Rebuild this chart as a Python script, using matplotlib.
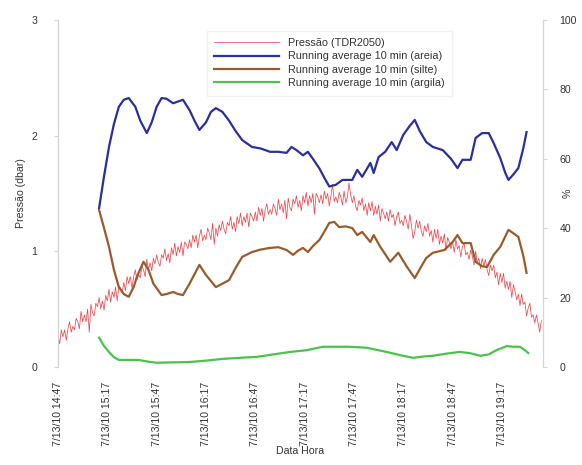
import matplotlib
matplotlib.use("Agg")
import matplotlib.pyplot as plt

plt.rcParams['font.family'] = ['Liberation Sans', 'DejaVu Sans']

# tempo em minutos a partir de 7/13/10 14:47
tick_pos = [0, 30, 60, 90, 120, 150, 180, 210, 240, 270]
tick_lab = ["7/13/10 14:47", "7/13/10 15:17", "7/13/10 15:47", "7/13/10 16:17",
            "7/13/10 16:47", "7/13/10 17:17", "7/13/10 17:47", "7/13/10 18:17",
            "7/13/10 18:47", "7/13/10 19:17"]

# pressao (dbar), uma leitura por minuto
p_val = [0.27, 0.20, 0.32, 0.26, 0.32, 0.23, 0.33, 0.39, 0.30, 0.35,
         0.32, 0.42, 0.39, 0.33, 0.48, 0.39, 0.45, 0.39, 0.50, 0.30,
         0.54, 0.47, 0.44, 0.55, 0.52, 0.60, 0.50, 0.57, 0.49, 0.62,
         0.57, 0.67, 0.56, 0.65, 0.60, 0.69, 0.57, 0.70, 0.68, 0.64,
         0.73, 0.66, 0.78, 0.72, 0.78, 0.68, 0.78, 0.84, 0.75, 0.80,
         0.77, 0.87, 0.84, 0.78, 0.93, 0.84, 0.90, 0.83, 0.94, 0.89,
         0.97, 0.90, 0.87, 0.97, 0.94, 1.02, 0.92, 0.98, 0.90, 1.03,
         0.97, 1.07, 0.96, 1.04, 0.99, 1.08, 0.96, 1.08, 1.06, 1.02,
         1.10, 1.03, 1.14, 1.08, 1.14, 1.03, 1.13, 1.19, 1.09, 1.14,
         1.10, 1.20, 1.16, 1.10, 1.24, 1.06, 1.20, 1.13, 1.23, 1.18,
         1.26, 1.19, 1.15, 1.25, 1.22, 1.30, 1.19, 1.25, 1.17, 1.30,
         1.24, 1.33, 1.22, 1.30, 1.25, 1.33, 1.21, 1.33, 1.30, 1.26,
         1.34, 1.26, 1.38, 1.31, 1.37, 1.26, 1.36, 1.41, 1.32, 1.36,
         1.32, 1.41, 1.37, 1.31, 1.45, 1.36, 1.41, 1.33, 1.44, 1.28,
         1.46, 1.38, 1.35, 1.45, 1.41, 1.48, 1.38, 1.44, 1.35, 1.48,
         1.42, 1.51, 1.39, 1.48, 1.42, 1.50, 1.32, 1.50, 1.47, 1.42,
         1.49, 1.41, 1.52, 1.45, 1.50, 1.39, 1.48, 1.58, 1.43, 1.47,
         1.42, 1.51, 1.47, 1.40, 1.52, 1.42, 1.47, 1.59, 1.49, 1.42,
         1.48, 1.39, 1.35, 1.44, 1.40, 1.46, 1.35, 1.41, 1.31, 1.42,
         1.35, 1.43, 1.31, 1.39, 1.32, 1.40, 1.26, 1.37, 1.33, 1.28,
         1.34, 1.26, 1.36, 1.29, 1.32, 1.22, 1.30, 1.34, 1.24, 1.27,
         1.22, 1.31, 1.26, 1.19, 1.32, 1.22, 1.11, 1.17, 1.27, 1.20,
         1.26, 1.17, 1.13, 1.22, 1.17, 1.24, 1.13, 1.18, 1.08, 1.19,
         1.11, 1.19, 1.06, 1.13, 1.07, 1.15, 1.01, 1.12, 1.08, 1.02,
         1.08, 0.99, 1.10, 1.02, 1.05, 0.95, 1.04, 1.07, 0.97, 0.99,
         0.93, 1.01, 0.96, 0.88, 1.00, 0.90, 0.94, 0.85, 0.94, 0.87,
         0.93, 0.84, 0.79, 0.88, 0.83, 0.88, 0.77, 0.82, 0.71, 0.81,
         0.73, 0.81, 0.68, 0.74, 0.67, 0.74, 0.60, 0.71, 0.65, 0.58,
         0.63, 0.53, 0.63, 0.54, 0.56, 0.44, 0.51, 0.55, 0.43, 0.45,
         0.38, 0.45, 0.38, 0.30, 0.40]
p_t = list(range(len(p_val)))

# media movel 10 min (%)
areia_t = [25, 28, 31, 34, 37, 40, 43, 47, 50, 54, 57, 60, 63, 66, 70, 73, 76, 80, 83, 86,
           90, 93, 96, 100, 104, 108, 112, 118, 123, 129, 134, 139, 142, 145, 149, 152, 155,
           159, 162, 165, 169, 173, 179, 182, 185, 190, 192, 195, 199, 203, 206, 210, 214,
           217, 220, 224, 228, 234, 239, 243, 246, 251, 254, 258, 262, 265, 269, 272, 274,
           277, 280, 283, 285]
areia = [45.8, 55, 63.4, 70, 75, 77, 77.5, 75, 71, 67.4, 70.5, 75, 77.5, 77.3, 76, 76.5, 77,
         74, 71, 68.3, 70.5, 73.5, 74.6, 73.5, 71, 68, 65.4, 63.4, 63, 62, 62, 61.7, 63.4,
         62.5, 61, 62, 60, 57.2, 54.5, 52, 52.5, 53.9, 53.9, 56.8, 54.8, 58.8, 55.9, 60.5,
         62, 64.8, 62.5, 66.9, 69.5, 71.2, 68, 64.8, 63.4, 62.5, 60, 57.3, 59.7, 59.7, 66,
         67.4, 67.4, 64.5, 60.2, 56, 53.9, 55.5, 57.3, 63, 67.7]

silte_t = [25, 28, 31, 34, 37, 40, 43, 46, 48, 52, 55, 58, 63, 66, 70, 73, 76, 80, 86, 90,
           96, 100, 104, 108, 112, 118, 123, 129, 134, 139, 143, 146, 149, 152, 155, 159,
           162, 165, 168, 171, 175, 179, 182, 185, 190, 192, 196, 199, 202, 207, 212, 217,
           221, 224, 228, 235, 240, 243, 246, 251, 254, 258, 261, 265, 269, 274, 277, 280,
           283, 285]
silte = [45.2, 40, 34.6, 28, 23, 21, 20.2, 23, 26, 30.3, 28, 24, 20.7, 21, 21.6, 21, 20.7,
         24, 29.4, 26.5, 23, 24, 25, 28.5, 31.7, 33.1, 33.8, 34.3, 34.5, 33.7, 32.3, 33.5,
         34.3, 33.1, 34.8, 36.6, 39, 41.5, 41.8, 40.3, 40.5, 40, 38, 38.9, 36, 38, 34.6,
         32.5, 30.3, 32.9, 29, 25.6, 29, 31.4, 32.9, 33.7, 36, 38, 35.7, 35.7, 30.3, 29,
         28.8, 32.3, 34.6, 39.5, 38.5, 37.5, 32, 27.1]

argila_t = [25, 28, 31, 34, 37, 43, 49, 55, 60, 70, 80, 90, 100, 110, 121, 131, 141, 151,
            161, 171, 177, 188, 200, 208, 216, 222, 228, 236, 244, 250, 257, 262, 267, 273,
            277, 281, 284, 286]
argila = [8.4, 6, 4.3, 2.8, 2, 2, 2, 1.5, 1.2, 1.3, 1.4, 1.8, 2.3, 2.6, 2.9, 3.6, 4.3, 4.8,
          5.8, 5.8, 5.8, 5.5, 4.3, 3.4, 2.6, 3, 3.2, 3.8, 4.3, 4, 3.2, 3.6, 4.9, 6, 5.8,
          5.8, 4.8, 4]

grey = "#d4d4d4"
txt = "#333333"

fig = plt.figure(figsize=(5.82, 4.65), dpi=100)
ax = fig.add_axes([0.0997, 0.211, 0.8333, 0.746])
ax2 = ax.twinx()

l0, = ax.plot(p_t, p_val, color="#e84a50", lw=0.55, label="Pressão (TDR2050)")
l1, = ax2.plot(areia_t, areia, color="#2b2f9a", lw=1.6, label="Running average 10 min (areia)")
l2, = ax2.plot(silte_t, silte, color="#9a5b2c", lw=1.6, label="Running average 10 min (silte)")
l3, = ax2.plot(argila_t, argila, color="#4cc24c", lw=1.6, label="Running average 10 min (argila)")

ax.set_xlim(0, 295)
ax.set_ylim(0, 3)
ax2.set_ylim(0, 100)
ax.set_yticks([0, 1, 2, 3])
ax2.set_yticks([0, 20, 40, 60, 80, 100])
ax.set_xticks(tick_pos)
ax.set_xticklabels(tick_lab, rotation=90)

for a in (ax, ax2):
    for s in a.spines.values():
        s.set_color(grey)
        s.set_linewidth(0.8)
    a.spines["top"].set_visible(False)
    a.spines["bottom"].set_visible(False)

ax.tick_params(axis="x", length=0, pad=11, labelsize=7.6, labelcolor=txt)
ax.tick_params(axis="y", length=3, color=grey, pad=12, labelsize=7.6, labelcolor=txt)
ax2.tick_params(axis="y", length=3, color=grey, pad=9, labelsize=7.6, labelcolor=txt)

ax.set_ylabel("Pressão (dbar)", fontsize=7.6, color=txt, labelpad=4)
ax.set_xlabel("Data Hora", fontsize=7.6, color=txt, labelpad=0)
# titulo do eixo % fica na coluna dos rotulos, a meia altura
ax2.text(1.05, 0.5, "%", transform=ax2.transAxes, rotation=90, fontsize=7.6,
         color=txt, ha="center", va="center")

leg = ax2.legend(handles=[l0, l1, l2, l3], loc="upper left", bbox_to_anchor=(0.295, 0.985),
                 fontsize=7.8, handlelength=6, handletextpad=0.8, labelspacing=0.3,
                 frameon=True, fancybox=False, borderpad=0.7)
leg.get_frame().set_edgecolor("#eeeeee")
leg.get_frame().set_facecolor("white")
for t in leg.get_texts():
    t.set_color(txt)

fig.savefig("out.png", dpi=100)
